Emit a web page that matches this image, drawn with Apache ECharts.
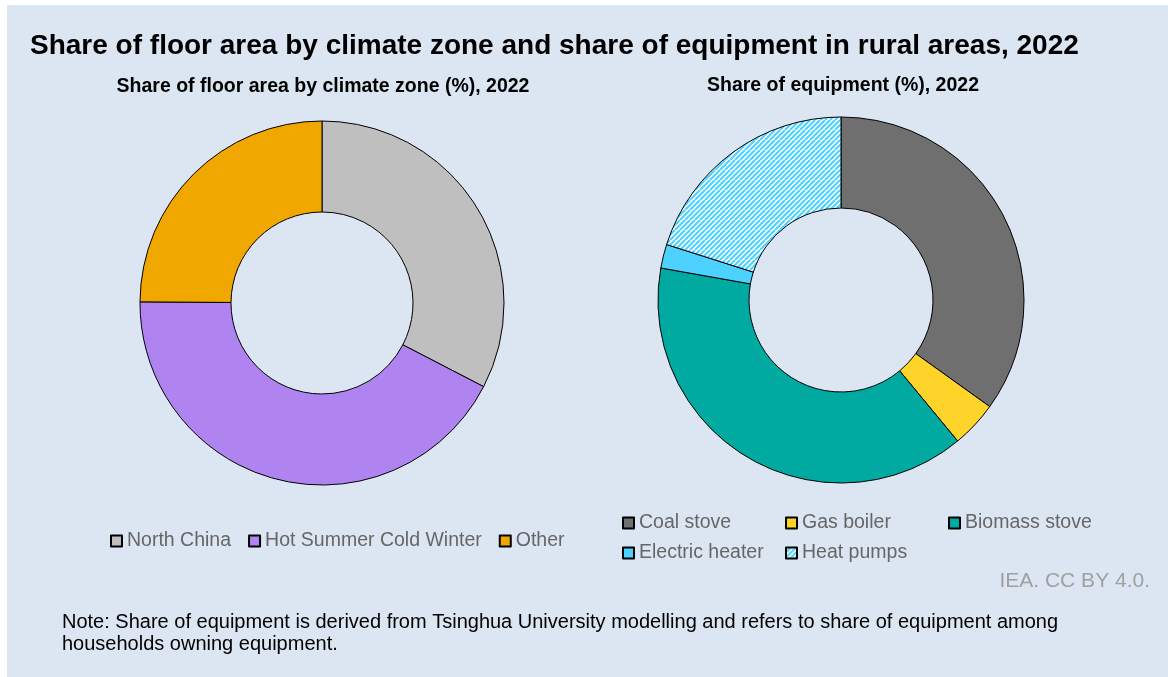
<!DOCTYPE html>
<html><head><meta charset="utf-8">
<script src="https://cdn.jsdelivr.net/npm/echarts@6/dist/echarts.min.js"></script>
<style>html,body{margin:0;padding:0;background:#fff}#c{width:1168px;height:677px}</style>
</head><body><div id="c"></div>
<script>
const zoneNames = ['North China', 'Hot Summer Cold Winter', 'Other'];
const zoneValues = [32.6, 42.5, 24.9];
const equipNames = ['Coal stove', 'Gas boiler', 'Biomass stove', 'Electric heater', 'Heat pumps'];
const equipValues = [34.9, 4.1, 38.8, 2.1, 20.1];

const zoneColors = ['#bfbfbf', '#b084f0', '#f0a800'];
const pat = document.createElement('canvas');
pat.width = 10; pat.height = 10;
const pc = pat.getContext('2d');
pc.fillStyle = '#ffffff'; pc.fillRect(0, 0, 10, 10);
pc.strokeStyle = '#4dd2ff'; pc.lineWidth = 2.1;
for (let k = -10; k <= 20; k += 5) { pc.beginPath(); pc.moveTo(k, 10); pc.lineTo(k + 10, 0); pc.stroke(); }
const equipColors = ['#6f6f6f', '#ffd42a', '#00aaa0', '#4dd2ff', { image: pat, repeat: 'repeat' }];

const font = '"Liberation Sans", Arial, sans-serif';
const chart = echarts.init(document.getElementById('c'), null, { renderer: 'canvas' });
const legendText = { color: '#666666', fontSize: 19.5, fontFamily: font };
function txt(x, y, text, size, opts) {
  return { type: 'text', x: x, y: y, z: 10, style: Object.assign({ text: text, fontSize: size, fontFamily: font, fill: '#000', verticalAlign: 'middle', align: 'left' }, opts || {}) };
}
function colLegend(names, left) {
  return { data: names, left: left, top: 513, orient: 'vertical', icon: 'rect', itemWidth: 11, itemHeight: 11, itemGap: 10, textStyle: legendText, padding: 0 };
}
chart.setOption({
  animation: false,
  backgroundColor: '#ffffff',
  graphic: [
    { type: 'rect', shape: { x: 7, y: 5, width: 1161, height: 672 }, style: { fill: '#dce6f2' }, z: -10 },
    txt(30, 46, 'Share of floor area by climate zone and share of equipment in rural areas, 2022', 28, { fontWeight: 'bold' }),
    txt(323, 87, 'Share of floor area by climate zone (%), 2022', 19.5, { fontWeight: 'bold', align: 'center' }),
    txt(843, 86, 'Share of equipment (%), 2022', 19.5, { fontWeight: 'bold', align: 'center' }),
    txt(62, 622, 'Note: Share of equipment is derived from Tsinghua University modelling and refers to share of equipment among', 20),
    txt(62, 644, 'households owning equipment.', 20),
    txt(1150, 581, 'IEA. CC BY 4.0.', 21, { fill: '#a0a0a0', align: 'right' })
  ],
  legend: [
    { data: zoneNames, left: 110, top: 531, icon: 'rect', itemWidth: 11, itemHeight: 11, itemGap: 17, textStyle: legendText, padding: 0 },
    colLegend([equipNames[0], equipNames[3]], 622),
    colLegend([equipNames[1], equipNames[4]], 785),
    colLegend([equipNames[2]], 948)
  ],
  series: [
    {
      type: 'pie', center: [322, 303], radius: [91, 182], startAngle: 90, clockwise: true,
      label: { show: false }, labelLine: { show: false }, silent: true,
      itemStyle: { borderColor: '#000', borderWidth: 1 },
      data: zoneNames.map((n, i) => ({ name: n, value: zoneValues[i], itemStyle: { color: zoneColors[i] } }))
    },
    {
      type: 'pie', center: [841, 300], radius: [92, 183], startAngle: 90, clockwise: true,
      label: { show: false }, labelLine: { show: false }, silent: true,
      itemStyle: { borderColor: '#000', borderWidth: 1 },
      data: equipNames.map((n, i) => ({ name: n, value: equipValues[i], itemStyle: { color: equipColors[i] } }))
    }
  ]
});
</script></body></html>
